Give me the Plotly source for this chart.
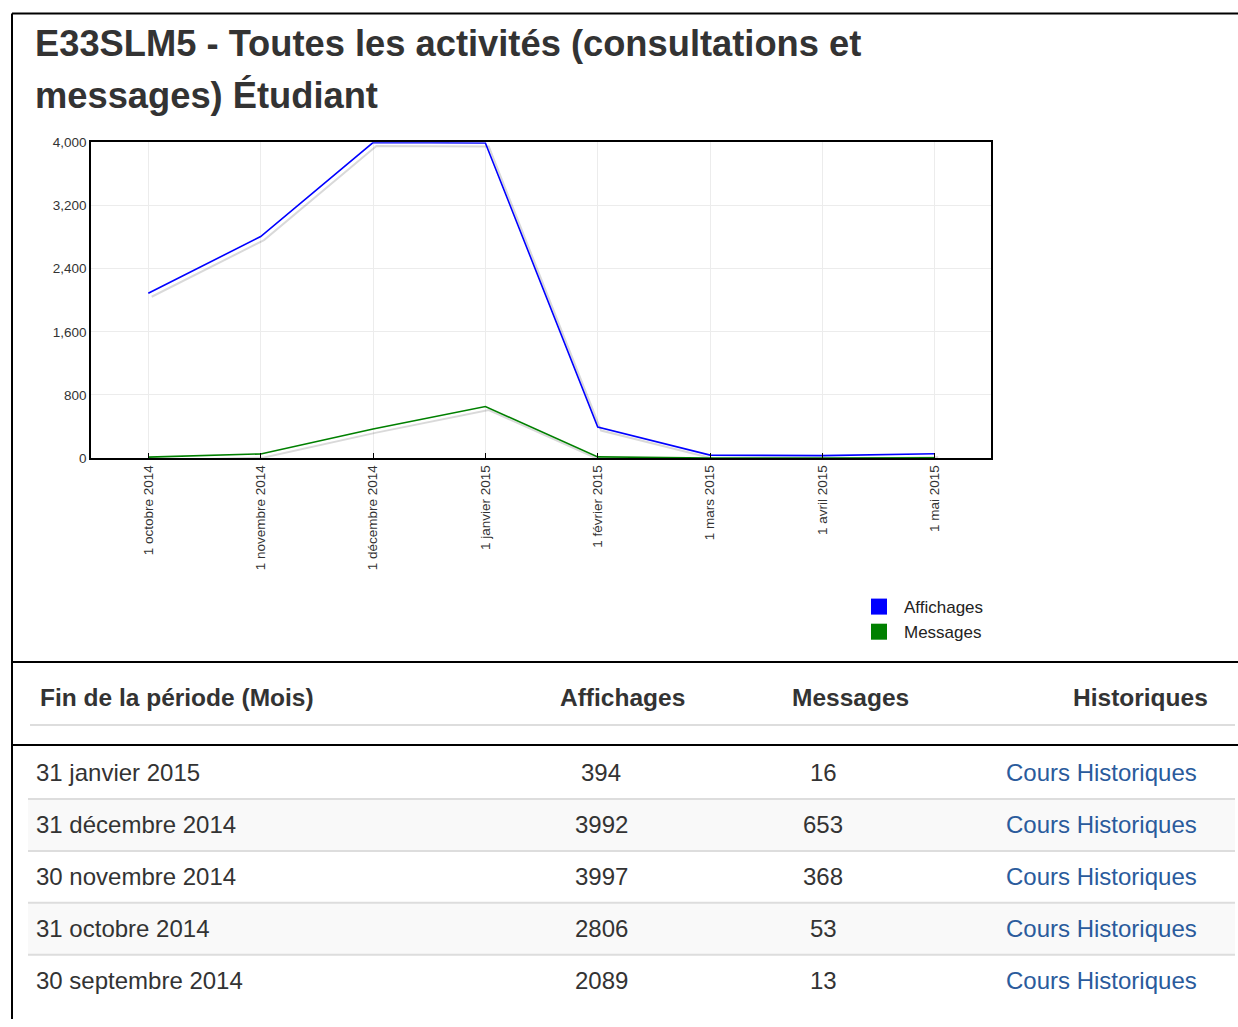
import plotly.graph_objects as go

# ---------------- data ----------------
months = ["1 octobre 2014", "1 novembre 2014", "1 décembre 2014", "1 janvier 2015",
          "1 février 2015", "1 mars 2015", "1 avril 2015", "1 mai 2015"]
affichages = [2089, 2806, 3997, 3992, 394, 38, 32, 55]
messages = [13, 53, 368, 653, 16, 2, 1, 3]

y_ticks = [0, 800, 1600, 2400, 3200, 4000]

table_header = ["Fin de la période (Mois)", "Affichages", "Messages", "Historiques"]
table_periods = ["31 janvier 2015", "31 décembre 2014", "30 novembre 2014",
                 "31 octobre 2014", "30 septembre 2014"]
table_affichages = [394, 3992, 3997, 2806, 2089]
table_messages = [16, 653, 368, 53, 13]
table_link = "Cours Historiques"

title_lines = ["E33SLM5 - Toutes les activités (consultations et", "messages) Étudiant"]

# ---------------- helpers ----------------
W, H = 1238, 1027
FONT = "Liberation Sans, Arial, Helvetica, sans-serif"

# small vertical calibration of the page layout
VOFF, VSCL = 6.6, 0.986


def X(px):
    return px / W


def Y(py):
    return 1 - ((py - VOFF) / VSCL) / H


SHADOW_DX = 0.03
SHADOW_DY = -45

xi = list(range(len(months)))

fig = go.Figure()

# shadows
for vals in (affichages, messages):
    fig.add_trace(go.Scatter(
        x=[i + SHADOW_DX for i in xi], y=[v + SHADOW_DY for v in vals],
        mode="lines", line=dict(color="rgba(0,0,0,0.15)", width=2),
        showlegend=False, hoverinfo="skip"))

fig.add_trace(go.Scatter(x=xi, y=affichages, mode="lines", name="Affichages",
                         line=dict(color="#0000ff", width=1.6), showlegend=False))
fig.add_trace(go.Scatter(x=xi, y=messages, mode="lines", name="Messages",
                         line=dict(color="#008000", width=1.6), showlegend=False))

# legend entries (square swatches)
for name, col in (("Affichages", "#0000ff"), ("Messages", "#008000")):
    fig.add_trace(go.Scatter(x=[None], y=[None], mode="markers", name=name,
                             marker=dict(symbol="square", size=16, color=col)))

shapes = []
# page borders
blk = dict(color="black", width=2)
shapes.append(dict(type="line", xref="paper", yref="paper", x0=X(12), x1=X(1238), y0=Y(13), y1=Y(13), line=blk))
shapes.append(dict(type="line", xref="paper", yref="paper", x0=X(12), x1=X(12), y0=Y(13), y1=0, line=blk))
shapes.append(dict(type="line", xref="paper", yref="paper", x0=X(12), x1=X(1238), y0=Y(662), y1=Y(662), line=blk))
shapes.append(dict(type="line", xref="paper", yref="paper", x0=X(12), x1=X(1238), y0=Y(745), y1=Y(745), line=blk))
# header separator
shapes.append(dict(type="line", xref="paper", yref="paper", x0=X(30), x1=X(1235), y0=Y(725), y1=Y(725),
                   line=dict(color="#dddddd", width=2)))

ROW0 = 773
ROWH = 52
annotations = []

# title
for k, t in enumerate(title_lines):
    annotations.append(dict(text="<b>" + t + "</b>", x=X(33), y=Y(43 + 52 * k), xref="paper", yref="paper",
                            xanchor="left", yanchor="middle", showarrow=False,
                            font=dict(family=FONT, size=36.3, color="#333333")))

# header
hdr_pos = [(38, "left"), (622, "center"), (850, "center"), (1210, "right")]
for t, (px, anc) in zip(table_header, hdr_pos):
    annotations.append(dict(text="<b>" + t + "</b>", x=X(px), y=Y(698), xref="paper", yref="paper",
                            xanchor=anc, yanchor="middle", showarrow=False,
                            font=dict(family=FONT, size=24.5, color="#333333")))

for i, (p, a, m) in enumerate(zip(table_periods, table_affichages, table_messages)):
    cy = ROW0 + ROWH * i
    top = cy - ROWH / 2
    bot = cy + ROWH / 2
    if i % 2 == 1:
        shapes.append(dict(type="rect", xref="paper", yref="paper", x0=X(28), x1=X(1235),
                           y0=Y(top), y1=Y(bot), fillcolor="#f9f9f9", line=dict(width=0), layer="below"))
    if i > 0:
        shapes.append(dict(type="line", xref="paper", yref="paper", x0=X(28), x1=X(1235),
                           y0=Y(top), y1=Y(top), line=dict(color="#dddddd", width=2)))
    rowfont = dict(family=FONT, size=24, color="#333333")
    annotations.append(dict(text=p, x=X(34), y=Y(cy), xref="paper", yref="paper", xanchor="left",
                            yanchor="middle", showarrow=False, font=rowfont))
    annotations.append(dict(text=str(a), x=X(601), y=Y(cy), xref="paper", yref="paper", xanchor="center",
                            yanchor="middle", showarrow=False, font=rowfont))
    annotations.append(dict(text=str(m), x=X(823), y=Y(cy), xref="paper", yref="paper", xanchor="center",
                            yanchor="middle", showarrow=False, font=rowfont))
    annotations.append(dict(text=table_link, x=X(1199), y=Y(cy), xref="paper", yref="paper", xanchor="right",
                            yanchor="middle", showarrow=False,
                            font=dict(family=FONT, size=24, color="#2a5b9c")))

fig.update_layout(
    width=W, height=H,
    margin=dict(l=0, r=0, t=0, b=0),
    paper_bgcolor="white", plot_bgcolor="white",
    font=dict(family=FONT, color="#333333"),
    showlegend=True,
    legend=dict(x=X(854), y=Y(589), xanchor="left", yanchor="top", itemwidth=40,
                font=dict(family=FONT, size=17, color="#222222"),
                bgcolor="rgba(0,0,0,0)", tracegroupgap=0),
    xaxis=dict(domain=[X(91), X(991)], range=[-0.51, 7.5],
               tickmode="array", tickvals=xi, ticktext=months, tickangle=-90,
               ticks="inside", ticklen=5, tickcolor="black", tickwidth=1,
               showgrid=True, gridcolor="#ececec", gridwidth=1,
               showline=True, mirror=True, linecolor="black", linewidth=1.5,
               zeroline=False, tickfont=dict(family=FONT, size=13.5, color="#333333")),
    yaxis=dict(domain=[Y(458), Y(142)], range=[0, 4000],
               tickmode="array", tickvals=y_ticks, tickformat=",",
               ticks="", showgrid=True, gridcolor="#ececec", gridwidth=1,
               showline=True, mirror=True, linecolor="black", linewidth=1.5,
               zeroline=False, tickfont=dict(family=FONT, size=13.5, color="#333333")),
    shapes=shapes,
    annotations=annotations,
)

post = ("var d=document.getElementById('{plot_id}');"
        "d.style.position='fixed';d.style.top='0';d.style.left='0';"
        "document.documentElement.style.margin='0';document.documentElement.style.padding='0';"
        "document.body.style.margin='0';document.body.style.padding='0';"
        "document.body.style.height='1027px';document.body.style.overflow='hidden';")

fig.write_html("out.html", config={"displayModeBar": False}, post_script=post)
